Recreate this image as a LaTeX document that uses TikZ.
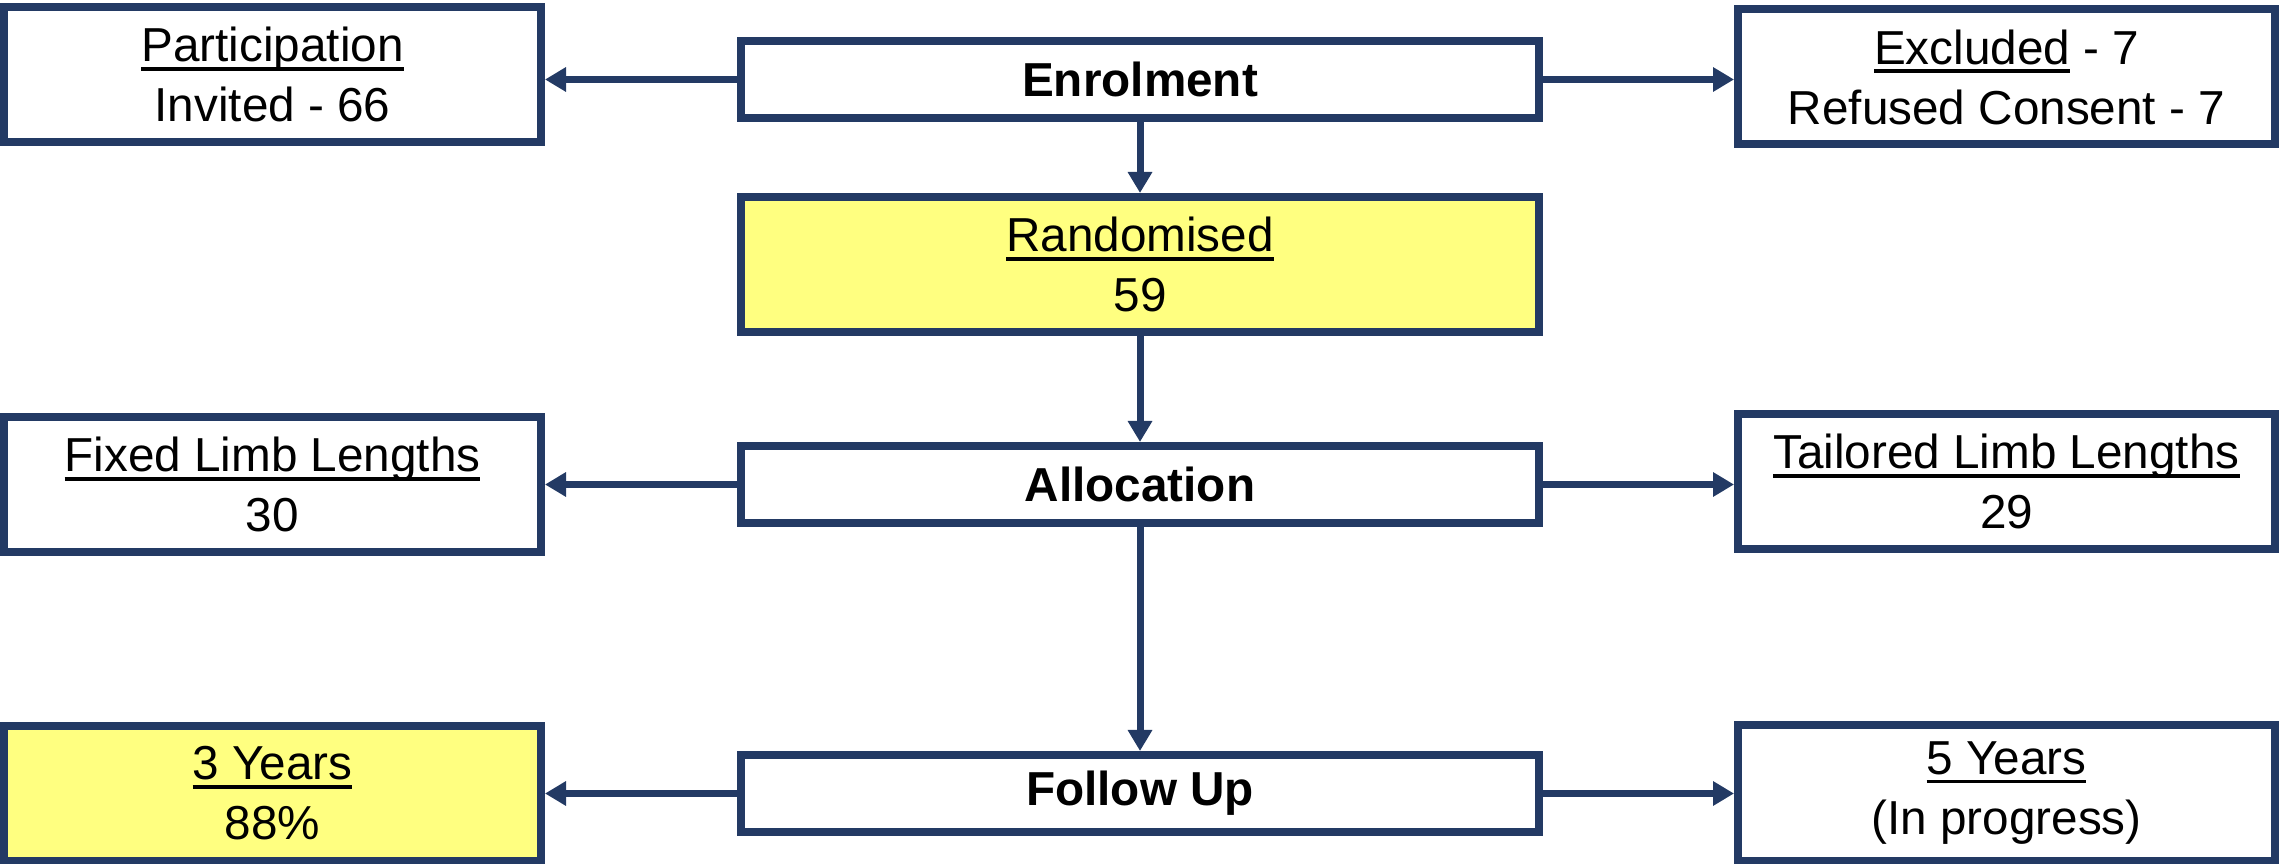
\documentclass[tikz,border=0pt]{standalone}
\usepackage{fontspec}
\setmainfont{Liberation Sans}
\newcommand{\myul}[1]{\setbox0\hbox{#1}\rlap{\rule[-2.7pt]{\wd0}{1.1pt}}\box0\relax}
\usetikzlibrary{arrows.meta}
\definecolor{navy}{RGB}{35,58,100}
\definecolor{hilite}{RGB}{255,255,128}
\begin{document}
\begin{tikzpicture}[x=0.3pt,y=-0.3pt,
  box/.style={draw=navy,line width=2.4pt,fill=white,align=center,inner sep=0pt,
    font=\fontsize{14.3}{18}\selectfont,text=black},
  side/.style={box,minimum width=161.1pt,minimum height=40.5pt},
  mid/.style={box,minimum width=239.4pt,minimum height=23.1pt,font=\fontsize{14.3}{18}\selectfont\bfseries},
  tall/.style={box,minimum width=239.4pt,minimum height=40.5pt},
  hl/.style={fill=hilite},
  conn/.style={draw=navy,line width=2.1pt,-{Triangle[length=6.3pt,width=7pt]}}]
\useasboundingbox (0,0) rectangle (2279,864);
\node[side] (part) at (272.5,74.5) {\myul{Participation}\\Invited - 66};
\node[mid] (enrol) at (1140,79.5) {Enrolment};
\node[side] (excl) at (2006.5,77) {\myul{Excluded} - 7\\Refused Consent - 7};
\node[tall,hl] (rand) at (1140,264.5) {\myul{Randomised}\\59};
\node[side] (fixed) at (272.5,484.5) {\myul{Fixed Limb Lengths}\\30};
\node[mid] (alloc) at (1140,484.5) {Allocation};
\node[side] (tail) at (2006.5,481.5) {\myul{Tailored Limb Lengths}\\29};
\node[side,hl] (three) at (272.5,793.5) {\myul{3 Years}\\88\%};
\node[mid] (follow) at (1140,793.5) {Follow Up};
\node[side] (five) at (2006.5,793) {\myul{5 Years}\\(In progress)};
\draw[conn] (enrol.west) -- (enrol.west -| part.east);
\draw[conn] (enrol.east) -- (enrol.east -| excl.west);
\draw[conn] (enrol.south) -- (rand.north);
\draw[conn] (rand.south) -- (alloc.north);
\draw[conn] (alloc.west) -- (alloc.west -| fixed.east);
\draw[conn] (alloc.east) -- (alloc.east -| tail.west);
\draw[conn] (alloc.south) -- (follow.north);
\draw[conn] (follow.west) -- (follow.west -| three.east);
\draw[conn] (follow.east) -- (follow.east -| five.west);
\end{tikzpicture}
\end{document}
